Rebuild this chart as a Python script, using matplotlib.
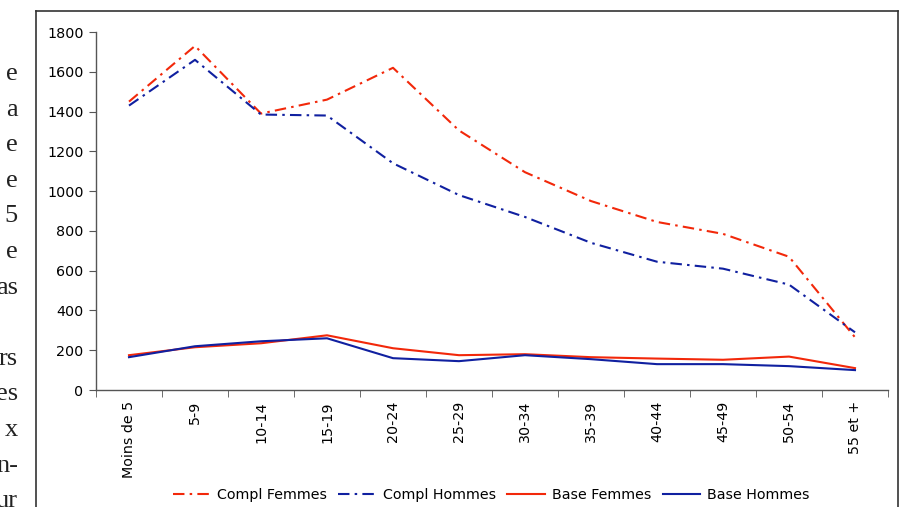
import matplotlib.pyplot as plt
import numpy as np
from matplotlib.lines import Line2D

# age groups and counts
ages = ["Moins de 5", "5-9", "10-14", "15-19", "20-24", "25-29",
        "30-34", "35-39", "40-44", "45-49", "50-54", "55 et +"]
compl_femmes = [1450, 1730, 1390, 1460, 1620, 1305, 1095, 950, 845, 785, 670, 265]
compl_hommes = [1430, 1660, 1385, 1380, 1140, 980, 870, 740, 645, 610, 530, 290]
base_femmes = [175, 215, 235, 275, 210, 175, 180, 165, 158, 152, 168, 110]
base_hommes = [165, 220, 245, 260, 160, 145, 175, 155, 130, 130, 120, 100]

# bits of the body text cut off at the left of the page
side_text = ["e", "a", "e", "e", "5", "e", "as", "", "rs", "es", "x", "n-", "ur"]

red = "#F2280A"
blue = "#1020A0"

W, H = 911, 507
fig = plt.figure(figsize=(W / 100, H / 100), dpi=100)
ax = fig.add_axes([96 / W, 1 - 390 / H, (888 - 96) / W, (390 - 32) / H])

x = np.arange(len(ages))
dashdot = (0, (5.5, 2.5, 1.2, 2.5))
ax.plot(x, compl_femmes, color=red, lw=1.5, ls=dashdot, label="Compl Femmes")
ax.plot(x, compl_hommes, color=blue, lw=1.5, ls=dashdot, label="Compl Hommes")
ax.plot(x, base_femmes, color=red, lw=1.5, label="Base Femmes")
ax.plot(x, base_hommes, color=blue, lw=1.5, label="Base Hommes")

ax.set_xlim(-0.5, len(ages) - 0.5)
ax.set_ylim(0, 1800)
ax.set_yticks(range(0, 1801, 200))
ax.set_xticks(x)
ax.set_xticklabels(ages, rotation=90)
ax.set_xticks(np.arange(-0.5, len(ages), 1), minor=True)
ax.tick_params(axis="x", which="major", length=0, pad=8, labelsize=10.3)
ax.tick_params(axis="x", which="minor", length=5, color="#555555", direction="out")
ax.tick_params(axis="y", length=5, color="#555555", labelsize=10.3, pad=4)
for s in ["top", "right"]:
    ax.spines[s].set_visible(False)
for s in ["left", "bottom"]:
    ax.spines[s].set_color("#555555")
    ax.spines[s].set_linewidth(1)

fig.legend(loc="center", bbox_to_anchor=(491 / W, 1 - 495 / H), ncol=4,
           frameon=False, fontsize=10.3, handlelength=2.6, columnspacing=0.8,
           handletextpad=0.5)

# frame around the chart
for (x0, y0, x1, y1) in [(36, 11, 898, 11), (36, 11, 36, H), (898, 11, 898, H)]:
    fig.add_artist(Line2D([x0 / W, x1 / W], [1 - y0 / H, 1 - y1 / H],
                          color="#333333", lw=1.2))

for i, t in enumerate(side_text):
    fig.text(18 / W, 1 - (80 + i * 35.6) / H, t, ha="right", va="baseline",
             family="Liberation Serif", fontsize=19, color="#222222")

fig.savefig("out.png", dpi=100)
